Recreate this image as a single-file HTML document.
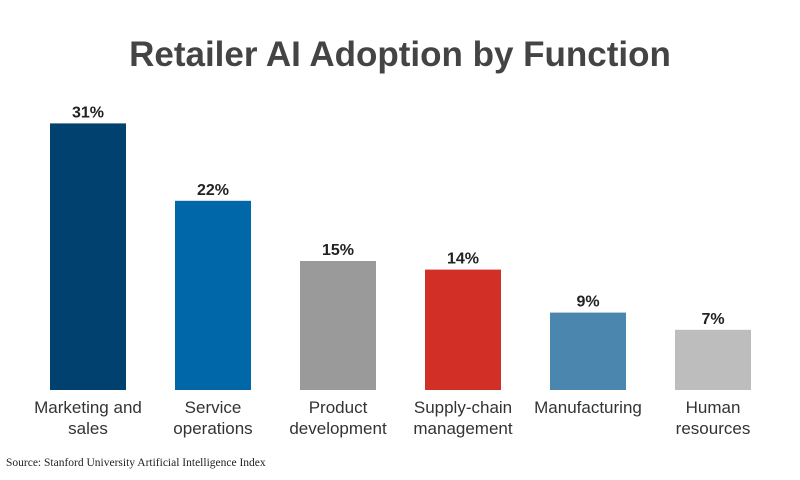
<!DOCTYPE html>
<html><head><meta charset="utf-8"><style>
body{margin:0;width:800px;height:475px;background:#fff;overflow:hidden;font-family:"Liberation Sans",sans-serif}
</style></head><body>
<svg id="chart" width="800" height="475" xmlns="http://www.w3.org/2000/svg">
<text x="400" y="66" text-anchor="middle" font-family="Liberation Sans, sans-serif" font-weight="bold" font-size="35" fill="#444">Retailer AI Adoption by Function</text>
<g id="bars"></g>
<text x="6" y="466" font-family="Liberation Serif, serif" font-size="11.5" fill="#222">Source: Stanford University Artificial Intelligence Index</text>
</svg>
<script>
const categories=[["Marketing and","sales"],["Service","operations"],["Product","development"],["Supply-chain","management"],["Manufacturing"],["Human","resources"]];
const values=[31,22,15,14,9,7];
const valueLabels=["31%","22%","15%","14%","9%","7%"];
const colors=["#00416f","#0068a9","#9a9a9a","#d22f27","#4a86ae","#bdbdbd"];
const baseY=390, pxPer=8.6, x0=50, step=125, bw=76;
const y=v=>baseY-v*pxPer;
const g=document.getElementById('bars');
const ns="http://www.w3.org/2000/svg";
values.forEach((v,i)=>{
 const x=x0+i*step;
 const r=document.createElementNS(ns,'rect');
 
 
 r.setAttribute('x',x);r.setAttribute('y',y(v));r.setAttribute('width',bw);r.setAttribute('height',baseY-y(v));r.setAttribute('fill',colors[i]);
 g.appendChild(r);
 const t=document.createElementNS(ns,'text');
 
 
 t.setAttribute('x',x+bw/2);t.setAttribute('y',y(v)-6);t.setAttribute('text-anchor','middle');
 t.setAttribute('font-size','16');t.setAttribute('font-weight','bold');t.setAttribute('fill','#222');
 t.textContent=valueLabels[i];g.appendChild(t);
 categories[i].forEach((line,j)=>{
  const c=document.createElementNS(ns,'text');
  
  
  c.setAttribute('x',x+bw/2);c.setAttribute('y',413+j*21);c.setAttribute('text-anchor','middle');
  c.setAttribute('font-size','17');c.setAttribute('fill','#333');
  c.textContent=line;g.appendChild(c);
 });
});
</script>
</body></html>
